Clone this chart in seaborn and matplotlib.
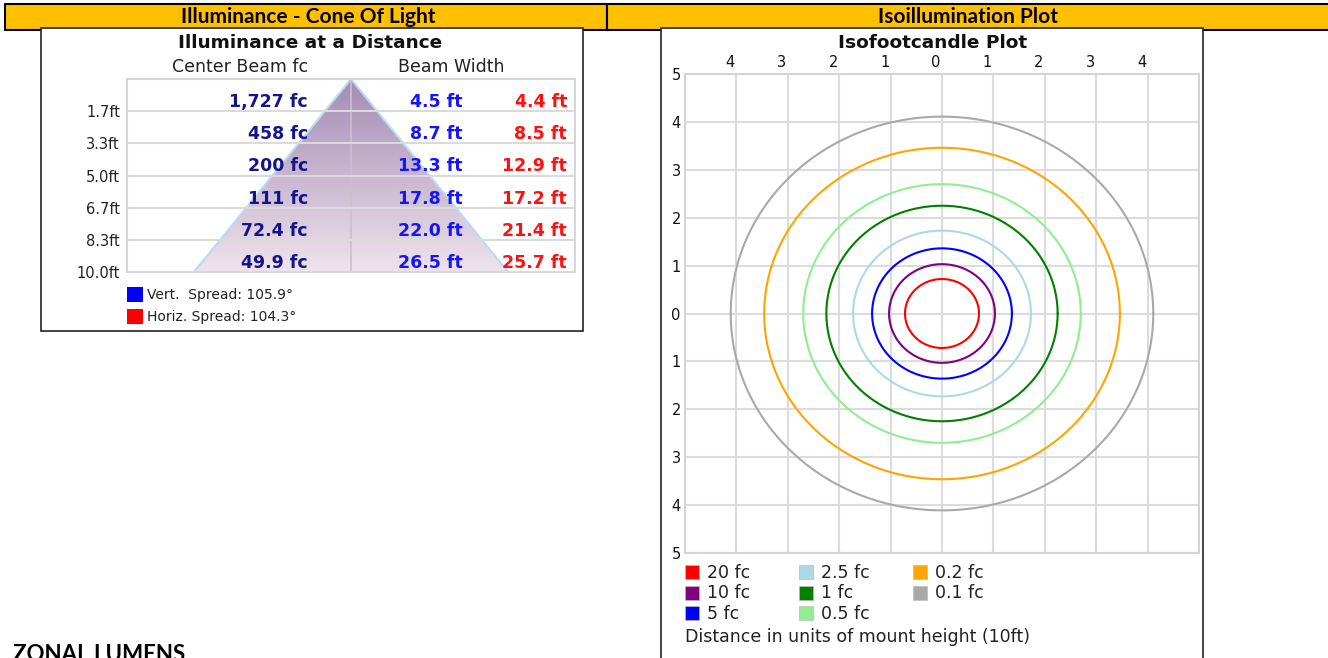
import numpy as np
import pandas as pd
import seaborn as sns
import matplotlib.pyplot as plt
from matplotlib.patches import Rectangle, Polygon
from matplotlib.colors import LinearSegmentedColormap
from matplotlib import transforms

# cone of light table
distance_ft = [1.667, 3.333, 5.0, 6.667, 8.333, 10.0]
center_fc = [1727, 458, 200, 111, 72.4, 49.9]
vert_width_ft = [4.5, 8.7, 13.3, 17.8, 22.0, 26.5]
horiz_width_ft = [4.4, 8.5, 12.9, 17.2, 21.4, 25.7]
vert_spread = 105.9
horiz_spread = 104.3

# isofootcandle contours (radius in mount heights)
iso_levels = ['20 fc', '10 fc', '5 fc', '2.5 fc', '1 fc', '0.5 fc', '0.2 fc', '0.1 fc']
iso_radius = [0.72, 1.03, 1.36, 1.73, 2.25, 2.70, 3.46, 4.11]
iso_colors = ['#ff0000', '#800080', '#0000ff', '#add8e6', '#008000', '#90ee90', '#ffa500', '#a9a9a9']

sns.set_style('white')
plt.rcParams['font.family'] = ['DejaVu Sans']

W, H = 1328, 658
fig = plt.figure(figsize=(W / 100, H / 100), dpi=100)


def px_axes(x0, y0, x1, y1):
    return fig.add_axes([x0 / W, 1 - y1 / H, (x1 - x0) / W, (y1 - y0) / H])


# background canvas in pixel coords
bg = fig.add_axes([0, 0, 1, 1])
bg.set_xlim(0, W)
bg.set_ylim(H, 0)
bg.axis('off')

bg.add_patch(Rectangle((5, 4), 602, 26, fc='#ffc000', ec='black', lw=1.5))
bg.add_patch(Rectangle((607, 4), 730, 26, fc='#ffc000', ec='black', lw=1.5))
bg.text(308, 17, 'Illuminance - Cone Of Light', ha='center', va='center',
        family='Lato', fontweight='bold', fontsize=15, color='black')
bg.text(968, 17, 'Isoillumination Plot', ha='center', va='center',
        family='Lato', fontweight='bold', fontsize=15, color='black')

bg.add_patch(Rectangle((41, 28), 542, 303, fc='white', ec='#222222', lw=1.2))
bg.add_patch(Rectangle((661, 28), 542, 640, fc='white', ec='#222222', lw=1.2))

bg.text(310, 43, 'Illuminance at a Distance', ha='center', va='center',
        fontweight='bold', fontsize=13.3, color='#111111')
bg.text(933, 43, 'Isofootcandle Plot', ha='center', va='center',
        fontweight='bold', fontsize=13.3, color='#111111')
bg.text(240, 67, 'Center Beam fc', ha='center', va='center', fontsize=12.5, color='#222222')
bg.text(451, 67, 'Beam Width', ha='center', va='center', fontsize=12.5, color='#222222')

# left legend
bg.add_patch(Rectangle((127, 287), 16, 15, fc='#0000ff', ec='none'))
bg.text(147, 295, f'Vert.  Spread: {vert_spread}°', va='center', fontsize=10, color='#222222')
bg.add_patch(Rectangle((127, 309), 16, 15, fc='#ff0000', ec='none'))
bg.text(147, 317, f'Horiz. Spread: {horiz_spread}°', va='center', fontsize=10, color='#222222')

bg.text(13, 661, 'ZONAL LUMENS', va='baseline', family='Lato', fontweight='bold',
        fontsize=16, color='black')

# cone of light table
tab = px_axes(127, 79, 575, 272)
half = vert_width_ft[-1] / 2
cone = Polygon([(0, 0), (-half, 10), (half, 10)], closed=True, fc='none', ec='none')
tab.add_patch(cone)
cone_cmap = LinearSegmentedColormap.from_list('cone', ['#a48cb6', '#c8b6cf', '#efe4ec'])
im = tab.imshow(np.linspace(0, 1, 256).reshape(-1, 1), cmap=cone_cmap,
                extent=[-half, half, 10, 0], aspect='auto', zorder=1)
im.set_clip_path(cone)
tab.plot([-half, 0, half], [10, 0, 10], color='#b8dcf2', lw=1.5, zorder=2)
tab.axvline(0, color='#cbc0cc', lw=1.2, zorder=2)
tab.set_xlim(-18.9, 18.9)
tab.set_ylim(10, 0)
tab.set_xticks([])
tab.set_yticks(distance_ft)
tab.set_yticklabels([f'{d:.1f}ft' for d in distance_ft])
tab.tick_params(axis='y', length=0, labelsize=10.5, pad=5, labelcolor='#222222')
tab.grid(axis='y', color='#dadada', lw=1.5)
tab.set_axisbelow(False)
for s in tab.spines.values():
    s.set_color('#d6d6d6')
    s.set_linewidth(1.5)

blend = transforms.blended_transform_factory(tab.transAxes, tab.transData)
for i, d in enumerate(distance_ft):
    y = d - 0.21
    tab.text(0.404, y, f"{format(center_fc[i], ',g')} fc", transform=blend, ha='right',
             va='baseline', color='#14148c', fontweight='bold', fontsize=12.5, zorder=3)
    tab.text(0.75, y, f'{vert_width_ft[i]:.1f} ft', transform=blend, ha='right',
             va='baseline', color='#1414ff', fontweight='bold', fontsize=12.5, zorder=3)
    tab.text(0.982, y, f'{horiz_width_ft[i]:.1f} ft', transform=blend, ha='right',
             va='baseline', color='#ff1010', fontweight='bold', fontsize=12.5, zorder=3)

# isofootcandle plot
iso = px_axes(685, 74, 1199, 553)
theta = np.linspace(0, 2 * np.pi, 241)
rows = []
for lev, r in zip(iso_levels, iso_radius):
    rows.append(pd.DataFrame({'x': r * np.cos(theta), 'y': r * np.sin(theta), 'level': lev}))
df = pd.concat(rows, ignore_index=True)
sns.lineplot(data=df, x='x', y='y', hue='level', palette=dict(zip(iso_levels, iso_colors)),
             sort=False, estimator=None, legend=False, lw=1.5, ax=iso)
iso.set_xlim(-5, 5)
iso.set_ylim(-5, 5)
iso.set_xlabel('')
iso.set_ylabel('')
iso.set_xticks(range(-4, 5))
iso.set_xticklabels([str(abs(v)) for v in range(-4, 5)])
iso.set_yticks(range(-5, 6))
iso.set_yticklabels([str(abs(v)) for v in range(-5, 6)])
iso.xaxis.tick_top()
iso.tick_params(length=0, labelsize=10.5, pad=3, labelcolor='#111111')
iso.grid(True, color='#dcdcdc', lw=1.5)
iso.set_axisbelow(True)
for s in iso.spines.values():
    s.set_color('#d4d4d4')
    s.set_linewidth(1.5)
offset = transforms.ScaledTranslation(-6 / 100, 0, fig.dpi_scale_trans)
for lbl in iso.get_xticklabels():
    lbl.set_transform(lbl.get_transform() + offset)

# isofootcandle legend
for k, (lev, col) in enumerate(zip(iso_levels, iso_colors)):
    c, r = k // 3, k % 3
    x = 685 + 114 * c
    y = 572 + 20.5 * r
    bg.add_patch(Rectangle((x, y - 7), 14, 14, fc=col, ec='#bbbbbb', lw=0.5))
    bg.text(x + 22, y + 1, lev, va='center', fontsize=12.5, color='#222222')
bg.text(685, 637, 'Distance in units of mount height (10ft)', va='center',
        fontsize=12.5, color='#222222')

fig.savefig('out.png', dpi=100)
